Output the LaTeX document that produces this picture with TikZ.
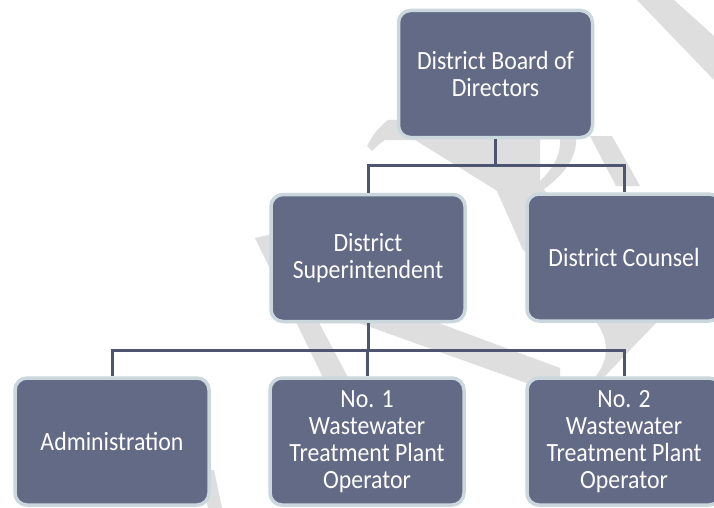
\documentclass[tikz,border=0pt]{standalone}
\usepackage{fontspec}
\setmainfont{Carlito}[FakeStretch=0.905]
\definecolor{boxfill}{HTML}{636A86}
\definecolor{boxedge}{HTML}{CAD7DC}
\definecolor{linkcol}{HTML}{4E5570}
\definecolor{wmark}{HTML}{DEDEDE}
\tikzset{
  orgbox/.style={draw=boxedge, line width=3.5pt, fill=boxfill, rounded corners=12pt,
    minimum width=194pt, minimum height=127pt, inner sep=0pt, align=center,
    text=white, font=\fontsize{26.3}{26.8}\selectfont},
  conn/.style={draw=linkcol, line width=3pt, line join=miter},
  wm/.style={fill=wmark, draw=none}
}
\begin{document}
\begin{tikzpicture}[x=1pt,y=-1pt]
\useasboundingbox (0,0) rectangle (714,508);
\clip (0,0) rectangle (714,508);
\fill[white] (0,0) rectangle (714,508);
% watermark (approximate)
\fill[wm] (637,0) -- (674,0) -- (714,36) -- (714,80) -- cycle;
\fill[wm] (367,146) .. controls (372,136) and (378,128) .. (388,120) -- (470,120) -- (560,205) -- (520,205) -- (415,140) -- (385,140) .. controls (380,143) and (375,148) .. (372,151) -- cycle;
\fill[wm] (470,130) -- (540,130) -- (540,260) -- (523,250) -- cycle;
\fill[wm] (590,136) -- (612,136) -- (640,186) -- (616,186) -- cycle;
\fill[wm] (560,136) -- (576,136) .. controls (578,160) and (560,178) .. (540,192) -- (528,192) .. controls (548,175) and (562,160) .. cycle;
\fill[wm] (255,238) -- (272,234) -- (360,400) -- (334,400) -- cycle;
\fill[wm] (345,318) -- (425,318) -- (560,368) -- (560,395) -- cycle;
\fill[wm] (597,323) -- (656,323) -- (603,378) -- (594,378) .. controls (606,365) and (612,345) .. cycle;
\fill[wm] (200,470) -- (214,470) -- (222,508) -- (208,508) -- cycle;
% boxes
\node[orgbox] (top) at (495.5,74) {District Board of\\Directors};
\node[orgbox] (sup) at (368,258) {District\\Superintendent};
\node[orgbox] (cou) at (624,257.5) {District Counsel};
\node[orgbox] (adm) at (112,441.5) {Administration};
\node[orgbox] (no1) at (367,441.5) {No. 1\\Wastewater\\Treatment Plant\\Operator};
\node[orgbox] (no2) at (624,441.5) {No. 2\\Wastewater\\Treatment Plant\\Operator};
% connectors
\coordinate (bar1) at (0,165);
\coordinate (bar2) at (0,350);
\draw[conn] (top.south) -- (top.south |- bar1);
\draw[conn] (sup.north) -- (sup.north |- bar1) -- (cou.north |- bar1) -- (cou.north);
\draw[conn] (sup.south) -- (sup.south |- bar2);
\draw[conn] (adm.north) -- (adm.north |- bar2) -- (no2.north |- bar2) -- (no2.north);
\draw[conn] (no1.north) -- (no1.north |- bar2);
\end{tikzpicture}
\end{document}
